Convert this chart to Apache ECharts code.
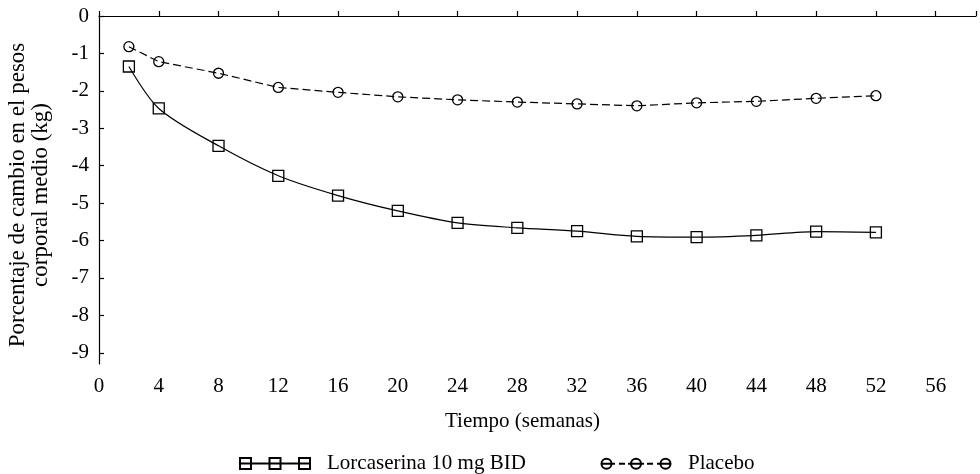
<!DOCTYPE html>
<html>
<head>
<meta charset="utf-8">
<script src="https://cdn.jsdelivr.net/npm/echarts@6/dist/echarts.min.js"></script>
<style>
  html, body { margin: 0; padding: 0; background: #fff; }
  #container { width: 980px; height: 474px; }
</style>
</head>
<body>
<div id="container"></div>
<script>
// semanas
var semanas = [2, 4, 8, 12, 16, 20, 24, 28, 32, 36, 40, 44, 48, 52];
// % cambio, lorcaserina 10 mg BID
var lorcaserina = [-1.35, -2.47, -3.47, -4.27, -4.80, -5.21, -5.53, -5.66, -5.75, -5.89, -5.91, -5.86, -5.76, -5.78];
// % cambio, placebo
var placebo = [-0.82, -1.22, -1.53, -1.91, -2.04, -2.16, -2.24, -2.30, -2.35, -2.40, -2.32, -2.28, -2.20, -2.13];
var xTicks = [0, 4, 8, 12, 16, 20, 24, 28, 32, 36, 40, 44, 48, 52, 56];
var yTicks = [0, -1, -2, -3, -4, -5, -6, -7, -8, -9];

var fuente = '"Liberation Serif", "DejaVu Serif", serif';

function pares(xs, ys) {
    var out = [];
    for (var i = 0; i < xs.length; i++) {
        out.push([xs[i], ys[i]]);
    }
    return out;
}

// iconos de la leyenda: tres simbolos unidos por la linea
var iconoCuadro = 'path://M0,0L11,0L11,11L0,11Z M29.5,0L40.5,0L40.5,11L29.5,11Z M59,0L70,0L70,11L59,11Z M0,5.5L70,5.5';
var iconoCirculo = 'path://M0.5,5.5A5,5 0 1 0 10.5,5.5A5,5 0 1 0 0.5,5.5Z' +
    ' M30,5.5A5,5 0 1 0 40,5.5A5,5 0 1 0 30,5.5Z' +
    ' M59.5,5.5A5,5 0 1 0 69.5,5.5A5,5 0 1 0 59.5,5.5Z' +
    ' M0,5.5L14,5.5 M18,5.5L24,5.5 M27,5.5L43,5.5 M46,5.5L52,5.5 M56,5.5L70,5.5 M35,0L35,0.01';

var dom = document.getElementById('container');
var myChart = echarts.init(dom);
var option = {
    animation: false,
    grid: { left: 99, right: 4, top: 16, bottom: 110, outerBoundsMode: 'none', containLabel: false },
    legend: [
        {
            left: 234, top: 448,
            itemWidth: 70, itemHeight: 11,
            textStyle: { fontFamily: fuente, fontSize: 21, color: '#000', padding: [0, 0, 0, 12] },
            data: [{ name: 'Lorcaserina 10 mg BID', icon: iconoCuadro }]
        },
        {
            left: 595, top: 448,
            itemWidth: 70, itemHeight: 11,
            textStyle: { fontFamily: fuente, fontSize: 21, color: '#000', padding: [0, 0, 0, 12] },
            data: [{ name: 'Placebo', icon: iconoCirculo }]
        }
    ],
    xAxis: {
        type: 'value',
        min: 0,
        max: 58.7,
        interval: 4,
        name: 'Tiempo (semanas)',
        nameLocation: 'middle',
        nameGap: 47,
        nameTextStyle: { fontFamily: fuente, fontSize: 21, color: '#000', padding: [0, 30, 0, 0] },
        axisLine: { lineStyle: { color: '#000', width: 1.2 } },
        axisTick: { inside: true, length: 5, lineStyle: { color: '#000', width: 1.2 },
            customValues: xTicks.concat([58.7]) },
        axisLabel: { fontFamily: fuente, fontSize: 21, color: '#000', margin: 12,
            customValues: xTicks },
        splitLine: { show: false }
    },
    yAxis: {
        type: 'value',
        min: -9.3,
        max: 0,
        name: 'Porcentaje de cambio en el pesos\ncorporal medio (kg)',
        nameLocation: 'middle',
        nameGap: 47,
        nameTextStyle: { fontFamily: fuente, fontSize: 23, color: '#000', lineHeight: 23, padding: [0, 10, 0, 0] },
        axisLine: { show: true, lineStyle: { color: '#000', width: 1.2 } },
        axisTick: { show: true, inside: true, length: 5, lineStyle: { color: '#000', width: 1.2 },
            customValues: yTicks },
        axisLabel: { fontFamily: fuente, fontSize: 21, color: '#000', margin: 10,
            customValues: yTicks },
        splitLine: { show: false }
    },
    series: [
        {
            name: 'Lorcaserina 10 mg BID',
            type: 'line',
            data: pares(semanas, lorcaserina),
            smooth: 0.3,
            symbol: 'rect',
            symbolSize: 11,
            lineStyle: { color: '#000', width: 1.2 },
            itemStyle: { color: 'rgba(255,255,255,0)', borderColor: '#000', borderWidth: 1.3 }
        },
        {
            name: 'Placebo',
            type: 'line',
            data: pares(semanas, placebo),
            symbol: 'circle',
            symbolSize: 10,
            lineStyle: { color: '#000', width: 1.2, type: [8, 4] },
            itemStyle: { color: 'rgba(255,255,255,0)', borderColor: '#000', borderWidth: 1.3 }
        }
    ]
};
myChart.setOption(option, true);
</script>
</body>
</html>
